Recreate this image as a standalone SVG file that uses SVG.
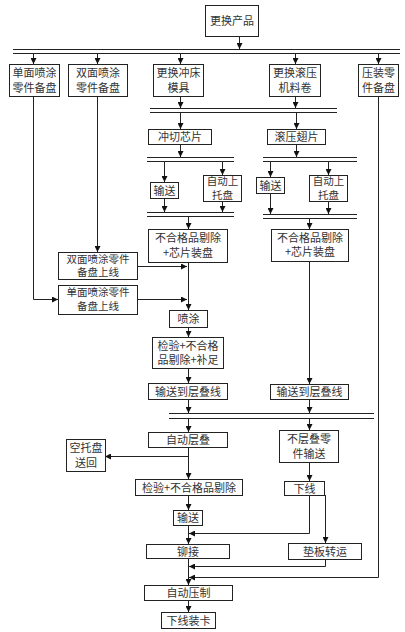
<svg xmlns="http://www.w3.org/2000/svg" width="405" height="632" viewBox="0 0 405 632">
<style>
.b{fill:#fff;stroke:#222;stroke-width:1}
.t{font-family:"Noto Sans CJK SC","Noto Sans",sans-serif;font-size:11px;fill:#333;text-anchor:middle}
.s{font-size:10.5px}
.c{fill:none;stroke:#222;stroke-width:1}
.bar{stroke:#222;stroke-width:1}
</style>
<defs>
<marker id="a" markerUnits="userSpaceOnUse" markerWidth="6" markerHeight="6" refX="6" refY="3" orient="auto">
<path d="M0,0 L6,3 L0,6 z" fill="#111"/>
</marker>
</defs>
<rect width="405" height="632" fill="#fff"/>
<g id="connectors">
<g class="bar">
<line x1="13" y1="49.5" x2="400" y2="49.5"/><line x1="13" y1="53.5" x2="400" y2="53.5"/>
<line x1="150" y1="108.5" x2="337" y2="108.5"/><line x1="150" y1="112.5" x2="337" y2="112.5"/>
<line x1="147" y1="157.5" x2="234" y2="157.5"/><line x1="147" y1="161.5" x2="234" y2="161.5"/>
<line x1="263" y1="157.5" x2="357" y2="157.5"/><line x1="263" y1="161.5" x2="357" y2="161.5"/>
<line x1="147" y1="212.5" x2="234" y2="212.5"/><line x1="147" y1="216.5" x2="234" y2="216.5"/>
<line x1="263" y1="214.5" x2="357" y2="214.5"/><line x1="263" y1="218.5" x2="357" y2="218.5"/>
<line x1="169" y1="413.5" x2="374" y2="413.5"/><line x1="169" y1="418.5" x2="374" y2="418.5"/>
</g>
<g class="c" marker-end="url(#a)">
<path d="M239.5,36 V49"/>
<path d="M33.5,54 V64"/><path d="M97.5,54 V64"/><path d="M180.5,54 V64"/><path d="M295.5,54 V64"/><path d="M378.5,54 V64"/>
<path d="M180.5,96 V108"/><path d="M295.5,96 V108"/>
<path d="M180.5,113 V129"/><path d="M296.5,113 V129"/>
<path d="M180.5,144 V157"/><path d="M296.5,144 V157"/>
<path d="M164.5,162 V182"/><path d="M222.5,162 V175"/><path d="M270.5,162 V177"/><path d="M328.5,162 V175"/>
<path d="M164.5,198 V212"/><path d="M222.5,201 V212"/><path d="M270.5,193 V214"/><path d="M328.5,201 V214"/>
<path d="M188.5,217 V229"/><path d="M309.5,219 V229"/>
<path d="M33.5,96 V299.5 H58"/>
<path d="M97.5,96 V252"/>
<path d="M188.5,262 V310"/>
<path d="M137,266.5 H187"/><path d="M137,299.5 H187"/>
<path d="M188.5,327 V337"/>
<path d="M188.5,368 V383"/>
<path d="M309.5,261 V384"/>
<path d="M188.5,399 V413"/><path d="M309.5,399 V413"/>
<path d="M188.5,419 V432"/><path d="M309.5,419 V430"/>
<path d="M188.5,447 V479"/>
<path d="M188.5,456.5 H105"/>
<path d="M309.5,462 V481"/>
<path d="M188.5,495 V510"/>
<path d="M188.5,525 V544"/>
<path d="M309.5,495 V533.5 H189"/>
<path d="M325.5,495 V543"/>
<path d="M188.5,558 V585"/>
<path d="M325.5,559 V566.5 H189"/>
<path d="M378.5,96 V577.5 H189"/>
<path d="M188.5,600 V612"/>
</g>
</g>
<g id="n1"><rect class="b" x="205.5" y="5.5" width="53" height="31"/><text class="t" x="232" y="25">更换产品</text></g>
<g id="n2"><rect class="b" x="9.5" y="64.5" width="50" height="32"/><text class="t" x="34.5" y="77">单面喷涂</text><text class="t" x="34.5" y="91.5">零件备盘</text></g>
<g id="n3"><rect class="b" x="68.5" y="64.5" width="59" height="32"/><text class="t" x="98" y="77">双面喷涂</text><text class="t" x="98" y="91.5">零件备盘</text></g>
<g id="n4"><rect class="b" x="153.5" y="64.5" width="50" height="32"/><text class="t" x="178.5" y="77">更换冲床</text><text class="t" x="178.5" y="91.5">模具</text></g>
<g id="n5"><rect class="b" x="269.5" y="64.5" width="51" height="32"/><text class="t" x="295" y="77">更换滚压</text><text class="t" x="295" y="91.5">机料卷</text></g>
<g id="n6"><rect class="b" x="358.5" y="64.5" width="40" height="32"/><text class="t" x="378.5" y="77">压装零</text><text class="t" x="378.5" y="91.5">件备盘</text></g>
<g id="n7"><rect class="b" x="148.5" y="129.5" width="63" height="15"/><text class="t" x="180" y="141">冲切芯片</text></g>
<g id="n8"><rect class="b" x="267.5" y="129.5" width="58" height="15"/><text class="t" x="296.5" y="141">滚压翅片</text></g>
<g id="n9"><rect class="b" x="150.5" y="182.5" width="28" height="16"/><text class="t" x="164.5" y="194.5">输送</text></g>
<g id="n10"><rect class="b" x="203.5" y="175.5" width="38" height="26"/><text class="t s" x="222.5" y="184.5">自动上</text><text class="t s" x="222.5" y="198.5">托盘</text></g>
<g id="n11"><rect class="b" x="256.5" y="177.5" width="28" height="16"/><text class="t" x="270.5" y="189.5">输送</text></g>
<g id="n12"><rect class="b" x="309.5" y="175.5" width="38" height="26"/><text class="t s" x="328.5" y="184.5">自动上</text><text class="t s" x="328.5" y="198.5">托盘</text></g>
<g id="n13"><rect class="b" x="148.5" y="229.5" width="79" height="33"/><text class="t" x="188" y="242">不合格品剔除</text><text class="t" x="188" y="256.5">+芯片装盘</text></g>
<g id="n14"><rect class="b" x="271.5" y="229.5" width="77" height="32"/><text class="t" x="310" y="241.5">不合格品剔除</text><text class="t" x="310" y="256">+芯片装盘</text></g>
<g id="n15"><rect class="b" x="58.5" y="252.5" width="79" height="27"/><text class="t s" x="98" y="262.6">双面喷涂零件</text><text class="t s" x="98" y="276.1">备盘上线</text></g>
<g id="n16"><rect class="b" x="58.5" y="285.5" width="79" height="29"/><text class="t s" x="98" y="296.3">单面喷涂零件</text><text class="t s" x="98" y="309.8">备盘上线</text></g>
<g id="n17"><rect class="b" x="169.5" y="310.5" width="38" height="17"/><text class="t" x="188.5" y="323">喷涂</text></g>
<g id="n18"><rect class="b" x="152.5" y="337.5" width="71" height="31"/><text class="t" x="188" y="349.5">检验+不合格</text><text class="t" x="188" y="364">品剔除+补足</text></g>
<g id="n19"><rect class="b" x="148.5" y="383.5" width="79" height="16"/><text class="t" x="188" y="395.5">输送到层叠线</text></g>
<g id="n20"><rect class="b" x="270.5" y="384.5" width="78" height="15"/><text class="t" x="309.5" y="396">输送到层叠线</text></g>
<g id="n21"><rect class="b" x="148.5" y="432.5" width="79" height="15"/><text class="t" x="188" y="444">自动层叠</text></g>
<g id="n22"><rect class="b" x="279.5" y="430.5" width="59" height="32"/><text class="t" x="309" y="443">不层叠零</text><text class="t" x="309" y="457.5">件输送</text></g>
<g id="n23"><rect class="b" x="66.5" y="439.5" width="39" height="32"/><text class="t" x="86" y="452">空托盘</text><text class="t" x="86" y="466.5">送回</text></g>
<g id="n24"><rect class="b" x="135.5" y="479.5" width="107" height="16"/><text class="t" x="189" y="491.5">检验+不合格品剔除</text></g>
<g id="n25"><rect class="b" x="284.5" y="481.5" width="40" height="14"/><text class="t" x="304.5" y="492.5">下线</text></g>
<g id="n26"><rect class="b" x="173.5" y="510.5" width="29" height="15"/><text class="t" x="188" y="522">输送</text></g>
<g id="n27"><rect class="b" x="146.5" y="544.5" width="83" height="14"/><text class="t" x="188" y="555.5">铆接</text></g>
<g id="n28"><rect class="b" x="288.5" y="543.5" width="73" height="16"/><text class="t" x="325" y="555.5">垫板转运</text></g>
<g id="n29"><rect class="b" x="144.5" y="585.5" width="88" height="15"/><text class="t" x="188.5" y="597">自动压制</text></g>
<g id="n30"><rect class="b" x="161.5" y="612.5" width="54" height="16"/><text class="t" x="188.5" y="624.5">下线装卡</text></g>
</svg>
